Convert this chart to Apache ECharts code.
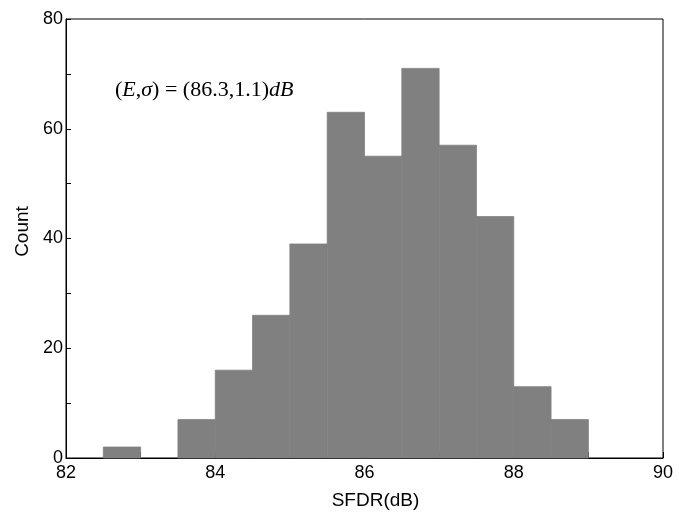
<!DOCTYPE html>
<html>
<head>
<meta charset="utf-8">
<script src="https://cdn.jsdelivr.net/npm/echarts@6/dist/echarts.min.js"></script>
<style>
  html, body { margin: 0; padding: 0; background: #fff; }
  #chart { width: 679px; height: 515px; }
</style>
</head>
<body>
<div id="chart"></div>
<script>
// histogram bins (dB) and counts
const binStarts = [82.5, 83.5, 84.0, 84.5, 85.0, 85.5, 86.0, 86.5, 87.0, 87.5, 88.0, 88.5];
const binWidth = 0.5;
const counts = [2, 7, 16, 26, 39, 63, 55, 71, 57, 44, 13, 7];

const xTicks = [82, 84, 86, 88, 90];
const yTicks = [0, 20, 40, 60, 80];

const chart = echarts.init(document.getElementById('chart'));

const histData = binStarts.map((s, i) => [s, s + binWidth, counts[i]]);

function renderBar(params, api) {
  const p0 = api.coord([api.value(0), api.value(2)]);
  const p1 = api.coord([api.value(1), 0]);
  return {
    type: 'rect',
    shape: { x: p0[0], y: p0[1], width: p1[0] - p0[0], height: p1[1] - p0[1] },
    // same-colour stroke hides the hairline seams between neighbouring bins
    style: { fill: '#808080', stroke: '#808080', lineWidth: 0.8 }
  };
}

const sans = 'Liberation Sans, Arial, sans-serif';
const serif = 'Liberation Serif, Times New Roman, serif';

const option = {
  backgroundColor: '#fff',
  animation: false,
  grid: {
    left: 66, right: 16, top: 19, bottom: 57,
    show: true, borderColor: '#000', borderWidth: 1, backgroundColor: 'transparent'
  },
  xAxis: {
    type: 'value',
    min: xTicks[0],
    max: xTicks[xTicks.length - 1],
    interval: 2,
    name: 'SFDR(dB)',
    nameLocation: 'middle',
    nameGap: 33,
    nameTextStyle: { color: '#000', fontSize: 19, fontFamily: sans, padding: [0, 0, 0, 22] },
    axisLine: { lineStyle: { color: '#000', width: 1 } },
    axisTick: { inside: true, length: 6, lineStyle: { color: '#000' } },
    minorTick: { show: true, splitNumber: 2, length: 6, lineStyle: { color: '#000' } },
    axisLabel: { color: '#000', fontSize: 18, fontFamily: sans, margin: 6 },
    splitLine: { show: false }
  },
  yAxis: {
    type: 'value',
    min: yTicks[0],
    max: yTicks[yTicks.length - 1],
    interval: 20,
    name: 'Count',
    nameLocation: 'middle',
    nameGap: 31,
    nameTextStyle: { color: '#000', fontSize: 19, fontFamily: sans, padding: [0, 0, 0, 14] },
    axisLine: { show: true, lineStyle: { color: '#000', width: 1 } },
    axisTick: { show: true, inside: true, length: 5, lineStyle: { color: '#000' } },
    minorTick: { show: true, splitNumber: 2, length: 5, lineStyle: { color: '#000' } },
    axisLabel: { color: '#000', fontSize: 18, fontFamily: sans, margin: 3 },
    splitLine: { show: false }
  },
  graphic: [{
    type: 'text',
    left: 115,
    top: 79,
    style: {
      text: '({i|E},{i|σ}) = (86.3,1.1){i|dB}',
      rich: {
        i: { fontStyle: 'italic', fontSize: 22, fontFamily: serif, fill: '#000' }
      },
      fontSize: 22,
      fontFamily: serif,
      fill: '#000'
    }
  }],
  series: [{
    type: 'custom',
    renderItem: renderBar,
    data: histData,
    encode: { x: [0, 1], y: 2 }
  }]
};

chart.setOption(option);
</script>
</body>
</html>
